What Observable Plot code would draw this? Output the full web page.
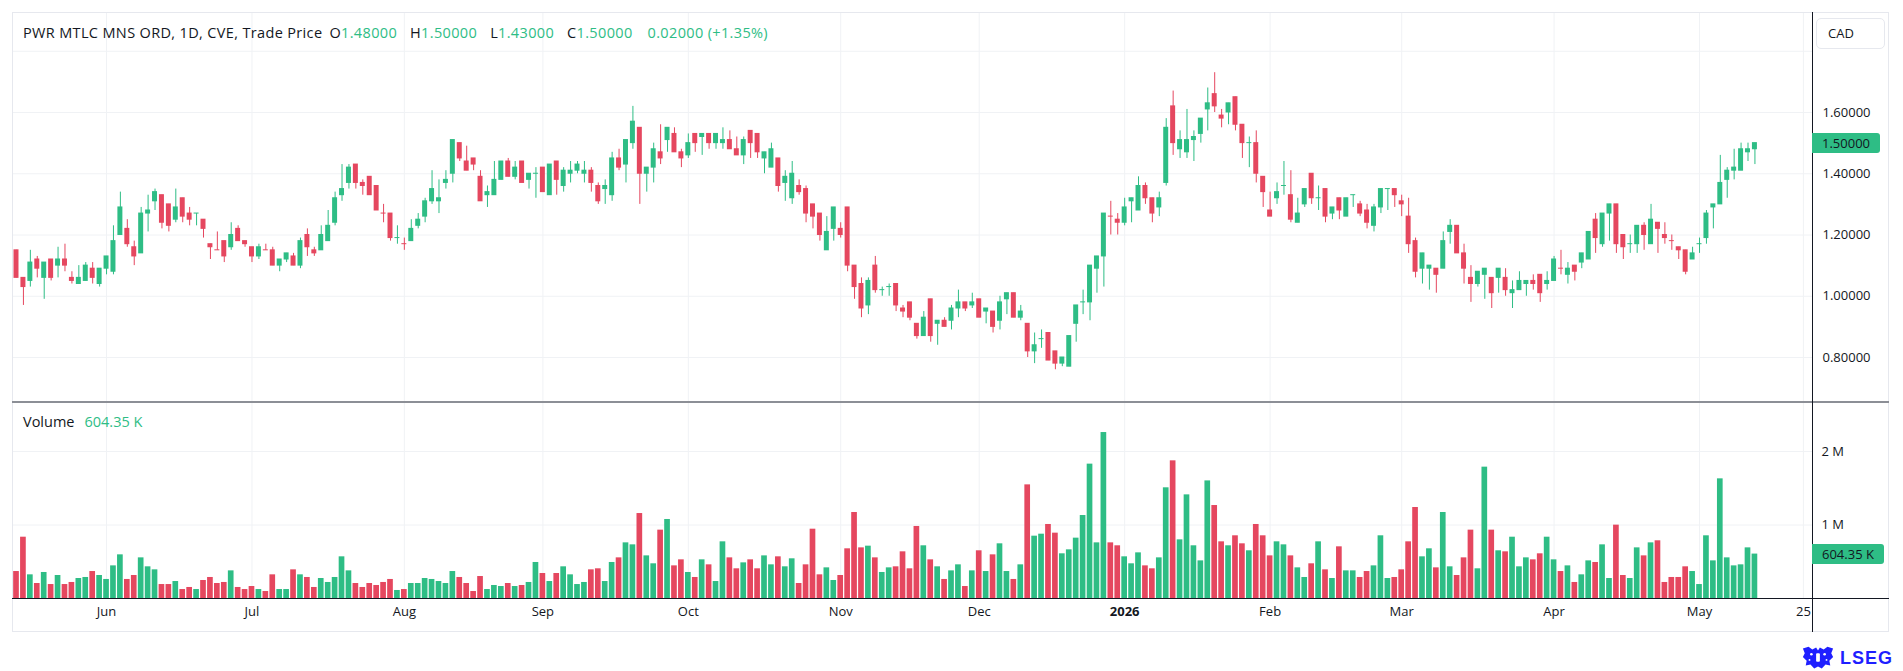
<!DOCTYPE html>
<html>
<head>
<meta charset="utf-8">
<script src="https://cdn.jsdelivr.net/npm/d3@7"></script>
<script src="https://cdn.jsdelivr.net/npm/@observablehq/plot@0.6"></script>
<style>
  html, body { margin: 0; padding: 0; background: #ffffff; }
  body { font-family: "Open Sans", Roboto, sans-serif; color: #131722; }
  #root { position: relative; width: 1903px; height: 671px; overflow: hidden; background: #fff; }
  .abs { position: absolute; }
  .g { color: #2ebd85; }
  .lbl { font-size: 14.5px; line-height: 18px; white-space: pre; }
  .box { position: absolute; background: #2ebd85; color: #131722; font-size: 13px; line-height: 20px; height: 20px; padding-left: 10px; box-sizing: border-box; border-radius: 0 3px 3px 0; white-space: pre; }
</style>
</head>
<body>
<div id="root"></div>
<script>
// ---------------- DATA (daily candles, 13 May 2025 → 13 May 2026) ----------------
const title = "PWR MTLC MNS ORD, 1D, CVE, Trade Price";
const currency = "CAD";

const opens = [
1.15,1.06,1.05,1.12,1.06,1.12,1.10,1.12,1.06,1.04,
1.05,1.09,1.04,1.09,1.08,1.20,1.22,1.16,1.14,1.27,
1.31,1.33,1.30,1.25,1.32,1.27,1.27,1.25,1.17,1.15,
1.18,1.16,1.22,1.18,1.16,1.13,1.15,1.15,1.10,1.12,
1.13,1.10,1.20,1.15,1.15,1.18,1.24,1.33,1.37,1.43,
1.37,1.39,1.36,1.27,1.27,1.19,1.17,1.18,1.23,1.26,
1.31,1.31,1.37,1.40,1.50,1.44,1.45,1.39,1.33,1.33,
1.38,1.44,1.39,1.44,1.38,1.40,1.42,1.33,1.44,1.36,
1.40,1.41,1.40,1.41,1.36,1.35,1.33,1.45,1.43,1.50,
1.55,1.40,1.42,1.47,1.51,1.53,1.47,1.46,1.53,1.52,
1.53,1.50,1.50,1.51,1.48,1.46,1.54,1.53,1.45,1.42,
1.45,1.37,1.32,1.36,1.35,1.30,1.27,1.15,1.22,1.22,
1.29,1.10,1.04,0.97,1.10,1.02,1.03,1.04,0.96,0.98,
0.91,0.87,0.99,0.91,0.92,0.92,0.96,0.98,0.97,0.99,
0.95,0.95,0.92,0.99,1.01,0.93,0.91,0.82,0.86,0.88,
0.82,0.78,0.77,0.91,0.98,0.98,1.09,1.13,1.26,1.25,
1.24,1.31,1.28,1.36,1.32,1.29,1.37,1.62,1.48,1.47,
1.51,1.53,1.61,1.66,1.59,1.60,1.65,1.56,1.50,1.50,
1.39,1.28,1.32,1.36,1.33,1.24,1.30,1.40,1.32,1.35,
1.27,1.32,1.26,1.33,1.30,1.28,1.23,1.29,1.35,1.35,
1.31,1.26,1.18,1.09,1.09,1.09,1.09,1.21,1.23,1.14,
1.06,1.04,1.07,1.06,1.06,1.06,1.01,1.02,1.04,1.05,
1.07,1.04,1.05,1.09,1.07,1.10,1.11,1.12,1.25,1.17,
1.27,1.30,1.20,1.17,1.17,1.23,1.17,1.24,1.20,1.18,
1.16,1.15,1.12,1.17,1.19,1.29,1.30,1.38,1.41,1.41,
1.47,1.48];

const highs = [
1.15,1.06,1.15,1.13,1.11,1.12,1.16,1.17,1.08,1.10,
1.11,1.11,1.09,1.13,1.23,1.34,1.25,1.18,1.29,1.33,
1.35,1.33,1.30,1.35,1.32,1.29,1.27,1.25,1.17,1.21,
1.18,1.24,1.23,1.18,1.16,1.17,1.17,1.16,1.12,1.14,
1.14,1.19,1.22,1.16,1.23,1.28,1.34,1.43,1.43,1.43,
1.38,1.39,1.36,1.30,1.27,1.23,1.19,1.25,1.27,1.32,
1.41,1.38,1.41,1.51,1.50,1.49,1.45,1.41,1.36,1.44,
1.44,1.45,1.44,1.44,1.40,1.42,1.42,1.43,1.44,1.42,
1.44,1.44,1.44,1.42,1.37,1.38,1.47,1.48,1.51,1.62,
1.55,1.42,1.50,1.56,1.55,1.55,1.48,1.53,1.53,1.53,
1.53,1.53,1.55,1.54,1.52,1.52,1.54,1.53,1.47,1.50,
1.45,1.41,1.44,1.38,1.36,1.30,1.27,1.26,1.29,1.24,
1.29,1.10,1.06,1.06,1.13,1.03,1.04,1.04,0.97,0.98,
0.91,0.95,0.99,0.92,0.93,0.97,1.02,0.98,1.01,0.99,
0.96,0.95,1.00,1.01,1.01,0.97,0.91,0.88,0.89,0.88,
0.82,0.80,0.87,0.97,1.02,1.10,1.13,1.27,1.31,1.27,
1.32,1.32,1.39,1.37,1.32,1.34,1.58,1.67,1.54,1.61,
1.54,1.58,1.68,1.73,1.61,1.63,1.65,1.56,1.52,1.54,
1.39,1.34,1.37,1.44,1.41,1.32,1.35,1.40,1.36,1.35,
1.29,1.32,1.32,1.33,1.31,1.30,1.30,1.35,1.35,1.35,
1.33,1.32,1.19,1.14,1.10,1.09,1.21,1.25,1.23,1.17,
1.10,1.08,1.09,1.06,1.09,1.09,1.05,1.08,1.05,1.07,
1.07,1.08,1.13,1.15,1.11,1.10,1.14,1.21,1.27,1.27,
1.30,1.30,1.20,1.20,1.23,1.24,1.30,1.24,1.24,1.20,
1.16,1.15,1.16,1.19,1.28,1.30,1.46,1.42,1.48,1.50,
1.50,1.50];

const lows = [
1.06,0.97,1.03,1.06,0.99,1.05,1.06,1.08,1.04,1.04,
1.05,1.04,1.03,1.07,1.07,1.20,1.16,1.10,1.14,1.21,
1.28,1.22,1.21,1.24,1.24,1.23,1.23,1.19,1.12,1.15,
1.11,1.15,1.18,1.16,1.11,1.12,1.15,1.10,1.08,1.11,
1.10,1.09,1.13,1.13,1.15,1.18,1.23,1.31,1.35,1.35,
1.33,1.33,1.28,1.24,1.18,1.17,1.15,1.18,1.22,1.24,
1.30,1.27,1.35,1.37,1.44,1.41,1.41,1.31,1.29,1.33,
1.38,1.39,1.38,1.37,1.35,1.32,1.34,1.33,1.33,1.34,
1.37,1.40,1.37,1.34,1.30,1.30,1.31,1.41,1.37,1.48,
1.30,1.34,1.37,1.43,1.47,1.47,1.42,1.45,1.47,1.46,
1.48,1.48,1.48,1.48,1.46,1.43,1.45,1.45,1.40,1.42,
1.34,1.31,1.30,1.33,1.24,1.22,1.18,1.15,1.18,1.19,
1.08,0.99,0.93,0.94,1.01,1.00,1.00,0.95,0.93,0.92,
0.86,0.87,0.85,0.84,0.90,0.89,0.93,0.95,0.96,0.93,
0.91,0.88,0.89,0.94,0.93,0.92,0.80,0.78,0.83,0.79,
0.76,0.77,0.77,0.85,0.94,0.92,1.01,1.03,1.20,1.20,
1.23,1.24,1.28,1.30,1.24,1.26,1.36,1.46,1.45,1.45,
1.44,1.50,1.54,1.60,1.55,1.56,1.54,1.45,1.42,1.37,
1.29,1.26,1.30,1.33,1.24,1.24,1.29,1.30,1.28,1.24,
1.25,1.25,1.26,1.29,1.26,1.22,1.21,1.27,1.28,1.29,
1.26,1.14,1.06,1.04,1.02,1.01,1.09,1.17,1.14,1.04,
0.98,1.03,0.99,0.96,1.01,1.00,0.96,1.02,1.00,1.02,
0.98,1.02,1.05,1.07,1.04,1.05,1.09,1.12,1.14,1.16,
1.18,1.14,1.12,1.14,1.14,1.15,1.17,1.14,1.17,1.15,
1.12,1.07,1.12,1.14,1.17,1.22,1.30,1.32,1.38,1.41,
1.44,1.43];

const closes = [
1.06,1.03,1.11,1.09,1.11,1.06,1.12,1.10,1.05,1.06,
1.10,1.06,1.09,1.13,1.18,1.29,1.17,1.13,1.27,1.28,
1.34,1.24,1.23,1.29,1.26,1.25,1.27,1.22,1.16,1.15,
1.13,1.20,1.18,1.17,1.13,1.16,1.15,1.10,1.12,1.14,
1.10,1.18,1.16,1.14,1.20,1.23,1.32,1.35,1.42,1.37,
1.36,1.33,1.28,1.27,1.19,1.19,1.17,1.22,1.25,1.31,
1.35,1.32,1.38,1.51,1.45,1.41,1.43,1.31,1.34,1.38,
1.44,1.39,1.42,1.37,1.40,1.40,1.34,1.43,1.38,1.41,
1.41,1.43,1.41,1.37,1.31,1.36,1.45,1.42,1.51,1.57,
1.40,1.42,1.48,1.45,1.55,1.47,1.45,1.50,1.50,1.53,
1.50,1.53,1.51,1.48,1.46,1.51,1.50,1.47,1.47,1.48,
1.36,1.39,1.40,1.34,1.27,1.26,1.20,1.21,1.29,1.20,
1.10,1.03,0.96,1.05,1.02,1.02,1.03,0.97,0.95,0.93,
0.87,0.93,0.87,0.92,0.90,0.96,0.98,0.96,0.98,0.93,
0.96,0.90,0.98,1.01,0.93,0.95,0.82,0.84,0.86,0.79,
0.78,0.80,0.87,0.97,0.98,1.10,1.13,1.27,1.26,1.24,
1.29,1.32,1.36,1.32,1.27,1.32,1.55,1.50,1.51,1.51,
1.52,1.58,1.63,1.62,1.58,1.63,1.56,1.50,1.50,1.40,
1.34,1.26,1.34,1.36,1.25,1.27,1.35,1.32,1.32,1.26,
1.29,1.28,1.32,1.33,1.27,1.24,1.29,1.35,1.35,1.33,
1.30,1.17,1.08,1.14,1.10,1.07,1.18,1.23,1.14,1.09,
1.04,1.08,1.09,1.01,1.09,1.02,1.02,1.05,1.05,1.04,
1.01,1.05,1.12,1.09,1.09,1.08,1.14,1.21,1.19,1.27,
1.30,1.17,1.16,1.17,1.23,1.20,1.25,1.22,1.19,1.18,
1.15,1.08,1.14,1.17,1.27,1.30,1.37,1.41,1.42,1.48,
1.48,1.50];

// volume in thousands of shares
const volumesK = [
367,834,322,204,354,190,313,190,218,272,
286,367,313,259,444,594,259,313,553,431,
390,190,190,231,122,150,122,245,286,204,
218,376,150,122,163,122,95,322,122,122,
390,322,286,150,272,218,286,567,376,204,
150,204,177,218,259,109,122,204,204,272,
259,231,204,367,286,204,95,299,122,177,
163,204,163,177,218,490,340,231,340,431,
322,190,218,390,404,231,490,553,757,730,
1156,580,472,930,1075,444,526,354,286,526,
458,231,771,553,404,485,526,404,580,458,
567,431,540,204,458,943,322,417,245,313,
676,1170,689,712,553,354,417,431,635,404,
980,717,526,431,259,376,458,163,376,649,
367,594,744,367,259,458,1546,848,875,1007,
889,608,662,821,1129,1828,757,2258,757,717,
567,472,621,444,404,553,1506,1873,798,1410,
717,512,1600,1265,771,717,853,744,649,1007,
853,580,771,730,580,417,286,472,771,390,
272,703,376,376,286,367,444,853,272,286,
390,771,1238,567,676,417,1170,431,313,553,
930,404,1787,930,649,635,834,431,553,526,
608,834,526,367,444,218,322,512,490,730,
272,998,313,272,689,580,757,785,218,286,
286,431,367,190,853,512,1628,553,444,458,
689,604.35];

// time axis: bar index of the first session of each month, and labels
const monthTickIndex  = [13, 34, 56, 76, 97, 119, 139, 160, 181, 200, 222, 243, 258];
const monthTickLabels = ["Jun","Jul","Aug","Sep","Oct","Nov","Dec","2026","Feb","Mar","Apr","May","25"];

const priceGridValues  = [0.8, 1.0, 1.2, 1.4, 1.6, 1.8];
const priceLabelValues = [0.8, 1.0, 1.2, 1.4, 1.6];
const volumeTicksK     = [1000, 2000];

// ---------------- LAYOUT / STYLE ----------------
const UP = "#2ebd85", DOWN = "#e5475f", GRID = "#f0f2f5", INK = "#131722";
const W = 1903;
const FRAME_L = 12, AXIS_X = 1812, FRAME_R = 1889, FRAME_T = 12, SEP_Y = 402, BOT_Y = 598, FRAME_B = 632;
const barStep = 6.926, firstBarX = 16;
const N = closes.length;

const candles = closes.map((c, i) => {
  const o = opens[i];
  const prev = i > 0 ? closes[i - 1] : o;
  const dir = c > o ? "up" : c < o ? "down" : (c >= prev ? "up" : "down");
  return {i, o, h: highs[i], l: lows[i], c, v: volumesK[i], dir};
});
const months = monthTickIndex.map((i, k) => ({i, label: monthTickLabels[k]}));

const xScale = {domain: [0, N - 1], range: [firstBarX, firstBarX + barStep * (N - 1)], axis: null};
const colorScale = {type: "ordinal", domain: ["up", "down"], range: [UP, DOWN]};
const svgStyle = {fontFamily: "'Open Sans', Roboto, sans-serif", fontSize: "13px", color: INK, background: "none", overflow: "visible"};

const root = document.getElementById("root");

// ---------------- PRICE PANE ----------------
const priceChart = Plot.plot({
  width: W, height: SEP_Y,
  marginLeft: FRAME_L, marginRight: W - AXIS_X, marginTop: FRAME_T, marginBottom: 0,
  x: xScale,
  y: {domain: [0.8, 1.6], range: [357, 112], axis: null},
  color: colorScale,
  style: svgStyle,
  marks: [
    Plot.ruleY(priceGridValues, {stroke: GRID}),
    Plot.ruleX(monthTickIndex, {stroke: GRID}),
    Plot.ruleX(candles, {x: "i", y1: "l", y2: "h", stroke: "dir", strokeWidth: 1}),
    Plot.rect(candles, {x1: d => d.i - 0.36, x2: d => d.i + 0.36, y1: "o", y2: "c", fill: "dir", insetTop: -0.5, insetBottom: -0.5}),
    Plot.text(priceLabelValues, {y: d => d, text: d => d3.format(".5f")(d), frameAnchor: "right", textAnchor: "start", dx: 10, fill: INK, fontSize: 13})
  ]
});
priceChart.style.position = "absolute"; priceChart.style.left = "0px"; priceChart.style.top = "0px";
root.appendChild(priceChart);

// ---------------- VOLUME PANE ----------------
const VOL_H = FRAME_B - SEP_Y;       // svg height
const volChart = Plot.plot({
  width: W, height: VOL_H,
  marginLeft: FRAME_L, marginRight: W - AXIS_X, marginTop: 0, marginBottom: FRAME_B - BOT_Y,
  x: xScale,
  y: {domain: [0, 2000], range: [BOT_Y - SEP_Y, 451 - SEP_Y], axis: null},
  color: colorScale,
  style: svgStyle,
  marks: [
    Plot.ruleY(volumeTicksK, {stroke: GRID}),
    Plot.ruleX(monthTickIndex, {stroke: GRID}),
    Plot.rect(candles, {x1: d => d.i - 0.41, x2: d => d.i + 0.41, y1: 0, y2: "v", fill: "dir"}),
    Plot.text(volumeTicksK, {y: d => d, text: d => (d / 1000) + " M", frameAnchor: "right", textAnchor: "start", dx: 9, fill: INK, fontSize: 13}),
    Plot.text(months.filter(d => d.label !== "2026"), {x: "i", text: "label", frameAnchor: "bottom", dy: 17, fill: INK, fontSize: 13}),
    Plot.text(months.filter(d => d.label === "2026"), {x: "i", text: "label", frameAnchor: "bottom", dy: 17, fill: INK, fontSize: 13, fontWeight: "bold"})
  ]
});
volChart.style.position = "absolute"; volChart.style.left = "0px"; volChart.style.top = SEP_Y + "px";
root.appendChild(volChart);

// ---------------- FRAME LINES ----------------
function div(css, html) {
  const d = document.createElement("div");
  d.className = "abs";
  d.style.cssText += css;
  if (html !== undefined) d.innerHTML = html;
  root.appendChild(d);
  return d;
}
div(`left:${FRAME_L}px;top:${FRAME_T}px;width:${FRAME_R - FRAME_L}px;height:${FRAME_B - FRAME_T}px;border:1px solid #e6e8ee;box-sizing:border-box;`);
div(`left:${FRAME_L}px;top:${SEP_Y - 1}px;width:${FRAME_R - FRAME_L}px;height:2px;background:#8c8f96;`);
div(`left:${FRAME_L}px;top:${BOT_Y - 0.5}px;width:${FRAME_R - FRAME_L}px;height:1px;background:${INK};`);
div(`left:${AXIS_X - 0.5}px;top:${FRAME_T}px;width:1px;height:${FRAME_B - FRAME_T}px;background:${INK};`);

// ---------------- LEGENDS ----------------
const f5 = d3.format(".5f");
const last = candles[N - 1], prevClose = closes[N - 2];
const chg = last.c - prevClose, pct = chg / prevClose;
const tl = div(`left:23px;top:24px;letter-spacing:0.35px;`);
tl.className = "abs lbl";
tl.innerHTML =
  `${title}<span style="margin-left:7px">O<span class="g">${f5(last.o)}</span></span>` +
  `<span style="margin-left:13px">H<span class="g">${f5(last.h)}</span></span>` +
  `<span style="margin-left:13px">L<span class="g">${f5(last.l)}</span></span>` +
  `<span style="margin-left:13px">C<span class="g">${f5(last.c)}</span></span>` +
  `<span class="g" style="margin-left:15px">${f5(chg)} (${d3.format("+.2%")(pct)})</span>`;

const volText = d3.format(".2f")(last.v) + " K";
const vl = div(`left:23px;top:413px;`);
vl.className = "abs lbl";
vl.innerHTML = `Volume<span class="g" style="margin-left:10px">${volText}</span>`;

// currency box
div(`left:1816px;top:18px;width:69px;height:31px;border:1px solid #e6e8ee;border-radius:5px;box-sizing:border-box;font-size:13px;line-height:29px;padding-left:11px;color:${INK};`, currency);

// last value markers (positions from the Plot scales)
const yPrice = priceChart.scale("y").apply(last.c);
const pb = div(`left:${AXIS_X}px;top:${yPrice - 10}px;width:68px;`, f5(last.c));
pb.className = "box";
const yVol = SEP_Y + volChart.scale("y").apply(last.v);
const vb = div(`left:${AXIS_X}px;top:${yVol - 10}px;width:72px;`, volText);
vb.className = "box";

// LSEG mark
div(`left:1801px;top:645px;width:34px;height:26px;`,
  `<svg width="34" height="26" viewBox="0 0 36 26"><g fill="#1f1fff">
   <path d="M2 3 L8 1 L12 4 L16 2 L18 5 L20 2 L24 4 L28 1 L34 3 L32 8 L34 12 L30 16 L31 21 L26 20 L22 24 L18 22 L14 24 L10 20 L5 21 L6 16 L2 12 L4 8 Z"/>
   </g><g fill="#ffffff"><circle cx="11" cy="9" r="1.4"/><circle cx="25" cy="9" r="1.4"/><rect x="16" y="8" width="4" height="9" rx="1"/><circle cx="9" cy="15" r="1"/><circle cx="27" cy="15" r="1"/></g></svg>`);
div(`left:1840px;top:645px;font-size:18px;line-height:26px;font-weight:bold;color:#1f1fff;letter-spacing:1px;font-family:'Liberation Sans',Arial,sans-serif;`, "LSEG");
</script>
</body>
</html>
